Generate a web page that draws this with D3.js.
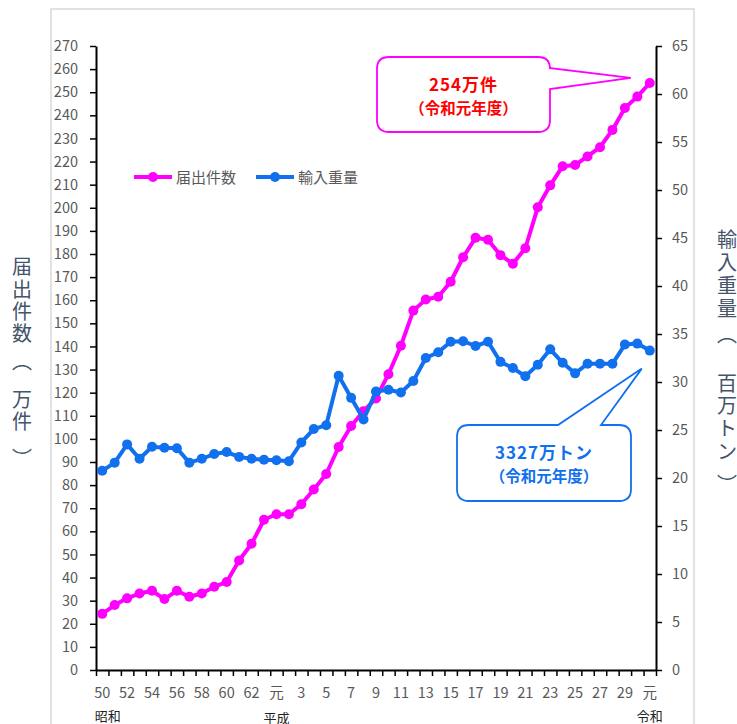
<!DOCTYPE html>
<html>
<head>
<meta charset="utf-8">
<script src="https://cdn.jsdelivr.net/npm/d3@7"></script>
<style>
  body { margin: 0; background: #fff; }
  text { font-family: "Noto Sans CJK JP", "Noto Sans", sans-serif; }
</style>
</head>
<body>
<div id="chart"></div>
<script>
// fiscal years (昭和50 .. 令和元)
const years = ["50","51","52","53","54","55","56","57","58","59","60","61","62","63",
  "元","2","3","4","5","6","7","8","9","10","11","12","13","14","15","16","17","18","19",
  "20","21","22","23","24","25","26","27","28","29","30","元"];
const eras = [{ name: "昭和", at: 1 }, { name: "平成", at: 14 }, { name: "令和", at: 44 }];

// 届出件数 (万件)
const filings = [24.3, 28.1, 31.0, 33.1, 34.3, 30.7, 34.3, 31.7, 33.1, 36.0,
  38.1, 47.4, 54.6, 65.0, 67.4, 67.4, 71.7, 78.1, 84.8, 96.5,
  105.6, 112.0, 117.5, 128.0, 140.3, 155.5, 160.3, 161.5, 168.0, 178.6,
  187.0, 186.2, 179.5, 175.8, 182.5, 200.2, 209.7, 218.0, 218.5, 222.2,
  226.2, 233.7, 243.2, 248.1, 254.0];

// 輸入重量 (百万トン)
const imports = [20.75, 21.6, 23.5, 22.0, 23.25, 23.15, 23.1, 21.6, 22.0, 22.5,
  22.7, 22.2, 22.0, 21.9, 21.85, 21.75, 23.7, 25.1, 25.5, 30.65,
  28.35, 26.1, 29.0, 29.2, 28.9, 30.1, 32.5, 33.1, 34.2, 34.25,
  33.75, 34.2, 32.1, 31.45, 30.6, 31.8, 33.4, 32.0, 30.9, 31.9,
  31.9, 31.9, 33.9, 34.0, 33.27];

const leftTicks = d3.range(0, 271, 10);
const rightTicks = d3.range(0, 66, 5);

const PINK = "#ff00ff", BLUE = "#1170ee", GREY = "#595959", TITLE = "#44546a";

const width = 737, height = 724;
const plot = { left: 96, right: 656, top: 46, bottom: 670 };

const svg = d3.select("#chart").append("svg")
  .attr("width", width).attr("height", height);

// chart area frame
svg.append("rect")
  .attr("x", 51).attr("y", 9).attr("width", 643).attr("height", 760)
  .attr("fill", "#fff").attr("stroke", "#d9d9d9").attr("stroke-width", 1.5);

const x = d3.scaleBand().domain(d3.range(years.length))
  .range([plot.left, plot.right]);
const xc = i => x(i) + x.bandwidth() / 2;
const xEdge = d3.scaleLinear().domain([0, years.length]).range([plot.left, plot.right]);
const yL = d3.scaleLinear().domain([0, 270]).range([plot.bottom, plot.top]);
const yR = d3.scaleLinear().domain([0, 65]).range([plot.bottom, plot.top]);

function styleAxis(g) {
  g.selectAll("path.domain").attr("stroke", "#000").attr("stroke-width", 2);
  g.selectAll(".tick line").attr("stroke", "#000").attr("stroke-width", 1.5);
  g.selectAll(".tick text").attr("fill", GREY).style("font-size", "14.5px");
}

svg.append("g").attr("transform", `translate(${plot.left},0)`)
  .call(d3.axisLeft(yL).tickValues(leftTicks).tickSize(6).tickSizeOuter(0).tickPadding(12))
  .call(styleAxis);

svg.append("g").attr("transform", `translate(${plot.right},0)`)
  .call(d3.axisRight(yR).tickValues(rightTicks).tickSize(6).tickSizeOuter(0).tickPadding(10))
  .call(styleAxis);

// x axis: tick marks at category edges
svg.append("g").attr("transform", `translate(0,${plot.bottom})`)
  .call(d3.axisBottom(xEdge).tickValues(d3.range(years.length + 1)).tickSize(6)
    .tickSizeOuter(0).tickFormat(""))
  .call(styleAxis);

// x labels every other year
svg.append("g").attr("transform", `translate(0,${plot.bottom})`)
  .call(d3.axisBottom(x).tickValues(d3.range(0, years.length, 2)).tickSize(0)
    .tickPadding(18).tickFormat(i => years[i]))
  .call(styleAxis)
  .call(g => g.select("path.domain").remove());

svg.append("g").selectAll("text").data(eras).join("text")
  .attr("x", d => xc(d.at) + (d.name === "昭和" ? -7 : 0))
  .attr("y", d => d.name === "平成" ? 723 : 721)
  .attr("text-anchor", "middle").attr("fill", "#222")
  .style("font-size", "13px").text(d => d.name);

// series
function drawSeries(values, y, color) {
  const line = d3.line().x((d, i) => xc(i)).y(d => y(d));
  svg.append("path").datum(values)
    .attr("fill", "none").attr("stroke", color).attr("stroke-width", 4)
    .attr("stroke-linejoin", "round").attr("d", line);
  svg.append("g").selectAll("circle").data(values).join("circle")
    .attr("cx", (d, i) => xc(i)).attr("cy", d => y(d)).attr("r", 5)
    .attr("fill", color);
}
drawSeries(filings, yL, PINK);
drawSeries(imports, yR, BLUE);

// legend
const legend = [
  { label: "届出件数", color: PINK, x: 134 },
  { label: "輸入重量", color: BLUE, x: 256 }
];
const lg = svg.append("g").selectAll("g").data(legend).join("g")
  .attr("transform", d => `translate(${d.x},177)`);
lg.append("line").attr("x1", 0).attr("x2", 38).attr("stroke", d => d.color).attr("stroke-width", 4);
lg.append("circle").attr("cx", 19).attr("r", 5).attr("fill", d => d.color);
lg.append("text").attr("x", 42).attr("y", 6).attr("fill", GREY)
  .style("font-size", "15px").text(d => d.label);

// vertical axis titles: one text, one tspan per stacked character
function vTitle(chars, cx, ys) {
  svg.append("text")
    .attr("text-anchor", "middle").attr("dominant-baseline", "central")
    .attr("fill", TITLE).style("font-size", "20px")
    .selectAll("tspan").data(chars).join("tspan")
    .attr("x", cx).attr("y", (d, i) => ys[i]).text(d => d);
}
vTitle(["届", "出", "件", "数", "︵", "万", "件", "︶"], 22,
  [265, 288, 310, 332, 360, 398, 420, 457]);
vTitle(["輸", "入", "重", "量", "︵", "百", "万", "ト", "ン", "︶"], 727,
  [238, 261, 284, 307, 333, 382, 404, 427, 450, 483]);

// callouts
function callout(box, tip, base, color, lines) {
  const r = 12;
  const { x0, y0, x1, y1 } = box;
  let p;
  if (base.side === "right") {
    p = `M${x0 + r},${y0} H${x1 - r} Q${x1},${y0} ${x1},${y0 + r} V${base.a}` +
      ` L${tip[0]},${tip[1]} L${x1},${base.b} V${y1 - r} Q${x1},${y1} ${x1 - r},${y1}` +
      ` H${x0 + r} Q${x0},${y1} ${x0},${y1 - r} V${y0 + r} Q${x0},${y0} ${x0 + r},${y0} Z`;
  } else {
    p = `M${x0 + r},${y0} H${base.a} L${tip[0]},${tip[1]} L${base.b},${y0} H${x1 - r}` +
      ` Q${x1},${y0} ${x1},${y0 + r} V${y1 - r} Q${x1},${y1} ${x1 - r},${y1}` +
      ` H${x0 + r} Q${x0},${y1} ${x0},${y1 - r} V${y0 + r} Q${x0},${y0} ${x0 + r},${y0} Z`;
  }
  svg.append("path").attr("d", p).attr("fill", "#fff")
    .attr("stroke", color.stroke).attr("stroke-width", 1.8);
  const cx = (x0 + x1) / 2;
  svg.append("text").attr("x", cx).attr("y", (y0 + y1) / 2 - 4)
    .attr("text-anchor", "middle").attr("fill", color.text)
    .style("font-size", "17px").style("font-weight", "bold").style("letter-spacing", "1px")
    .text(lines[0]);
  svg.append("text").attr("x", cx).attr("y", (y0 + y1) / 2 + 19)
    .attr("text-anchor", "middle").attr("fill", color.text)
    .style("font-size", "15.5px").style("font-weight", "bold")
    .text(lines[1]);
}

const last = years.length - 1;
callout({ x0: 377, y0: 57, x1: 550, y1: 132 },
  [xc(last) - 19, yL(filings[last]) - 5], { side: "right", a: 68, b: 89 },
  { stroke: PINK, text: "#ff0000" }, ["254万件", "（令和元年度）"]);
callout({ x0: 457, y0: 425, x1: 631, y1: 501 },
  [xc(last) - 8, yR(imports[last]) + 18], { side: "top", a: 558, b: 601 },
  { stroke: BLUE, text: BLUE }, ["3327万トン", "（令和元年度）"]);
</script>
</body>
</html>
